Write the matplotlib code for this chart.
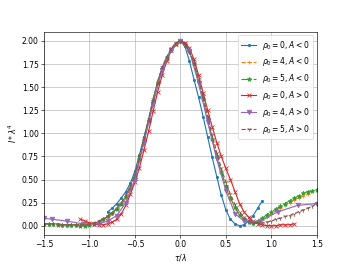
import numpy as np
import matplotlib
matplotlib.use("Agg")
import matplotlib.pyplot as plt

# rho0=0, A<0
t_b = np.round(np.arange(-0.80, 0.91, 0.05), 2)
v_b = [0.15, 0.19, 0.24, 0.30, 0.37, 0.46, 0.59, 0.77, 0.96, 1.15,
       1.36, 1.56, 1.71, 1.82, 1.91, 1.97,
       2.00,
       1.94, 1.78, 1.58, 1.39, 1.18, 0.96, 0.74, 0.53, 0.33, 0.17,
       0.07, 0.02, 0.00, 0.01, 0.05, 0.11, 0.19, 0.27]

# rho0=4, A<0
t_o = np.round(np.arange(-1.30, 1.41, 0.05), 2)
v_o = [0.01, 0.01, 0.01, 0.01, 0.01, 0.01, 0.02, 0.03, 0.05, 0.07,
       0.10, 0.14, 0.18, 0.23, 0.30, 0.40, 0.53, 0.71, 0.92, 1.12,
       1.34, 1.55, 1.70, 1.81, 1.90, 1.97,
       2.00,
       1.97, 1.89, 1.74, 1.55, 1.36, 1.14, 0.93, 0.74, 0.57, 0.42,
       0.29, 0.19, 0.12, 0.07, 0.04, 0.03, 0.04, 0.06, 0.09, 0.13,
       0.16, 0.19, 0.22, 0.25, 0.28, 0.30, 0.32, 0.34]

# rho0=5, A<0
t_g = np.round(np.arange(-1.50, 1.51, 0.05), 2)
v_g = [0.02, 0.02, 0.02, 0.01, 0.01, 0.01, 0.01, 0.01, 0.00, 0.00,
       0.01, 0.02, 0.04, 0.07, 0.10, 0.14, 0.18, 0.24, 0.31, 0.41,
       0.54, 0.72, 0.93, 1.13, 1.35, 1.55, 1.70, 1.81, 1.90, 1.97,
       2.00,
       1.97, 1.89, 1.75, 1.56, 1.37, 1.15, 0.94, 0.75, 0.58, 0.43,
       0.30, 0.20, 0.12, 0.07, 0.04, 0.03, 0.05, 0.08, 0.12, 0.15,
       0.18, 0.21, 0.24, 0.27, 0.30, 0.32, 0.35, 0.37, 0.38, 0.39]

# rho0=0, A>0
t_r = np.round(np.arange(-1.10, 1.26, 0.05), 2)
v_r = [0.07, 0.05, 0.03, 0.02, 0.01, 0.01, 0.02, 0.04, 0.07, 0.13,
       0.22, 0.34, 0.47, 0.63, 0.82, 1.02, 1.24, 1.45, 1.63, 1.78,
       1.90, 1.97,
       2.00,
       1.98, 1.92, 1.80, 1.63, 1.44, 1.25, 1.07, 0.90, 0.75, 0.62,
       0.50, 0.37, 0.24, 0.15, 0.09, 0.05, 0.02, 0.01, 0.00, 0.00,
       0.00, 0.01, 0.01, 0.01, 0.02]

# rho0=4, A>0
t_p = [-1.50, -1.41, -1.25, -1.07, -0.90, -0.80, -0.70, -0.60, -0.50, -0.40,
       -0.30, -0.20, -0.10, 0.00, 0.10, 0.20, 0.30, 0.40, 0.50, 0.60,
       0.70, 0.77, 0.88, 1.07, 1.29, 1.50]
v_p = [0.08, 0.07, 0.05, 0.02, 0.02, 0.05, 0.11, 0.25, 0.50, 0.90,
       1.32, 1.69, 1.90, 2.00, 1.89, 1.54, 1.12, 0.72, 0.38, 0.13,
       0.05, 0.04, 0.05, 0.15, 0.22, 0.24]

# rho0=5, A>0
t_br = np.round(np.arange(-1.50, 1.51, 0.05), 2)
v_br = [0.02, 0.02, 0.02, 0.02, 0.01, 0.01, 0.01, 0.01, 0.01, 0.01,
        0.02, 0.03, 0.05, 0.07, 0.10, 0.14, 0.19, 0.25, 0.33, 0.43,
        0.56, 0.74, 0.95, 1.16, 1.37, 1.56, 1.72, 1.83, 1.92, 1.98,
        2.00,
        1.96, 1.88, 1.76, 1.59, 1.40, 1.19, 0.98, 0.79, 0.62, 0.47,
        0.34, 0.23, 0.15, 0.09, 0.05, 0.03, 0.03, 0.03, 0.04, 0.05,
        0.07, 0.08, 0.10, 0.11, 0.13, 0.15, 0.17, 0.19, 0.21, 0.24]

plt.figure(figsize=(6.4, 4.8), dpi=55)
plt.plot(t_b, v_b, marker=".", linestyle="-", label=r"$\rho_0=0, A<0$")
plt.plot(t_o, v_o, marker="+", linestyle="--", label=r"$\rho_0=4, A<0$")
plt.plot(t_g, v_g, marker="*", linestyle="-.", label=r"$\rho_0=5, A<0$")
plt.plot(t_r, v_r, marker="x", linestyle="-", label=r"$\rho_0=0, A>0$")
plt.plot(t_p, v_p, marker="v", linestyle="-", label=r"$\rho_0=4, A>0$")
plt.plot(t_br, v_br, marker="1", linestyle="--", label=r"$\rho_0=5, A>0$")
plt.xlim(-1.5, 1.5)
plt.xlabel(r"$\tau/\lambda$")
plt.ylabel(r"$I*\lambda^4$")
plt.grid(True)
plt.legend(loc="upper right")
plt.savefig("out.png", dpi=55)
